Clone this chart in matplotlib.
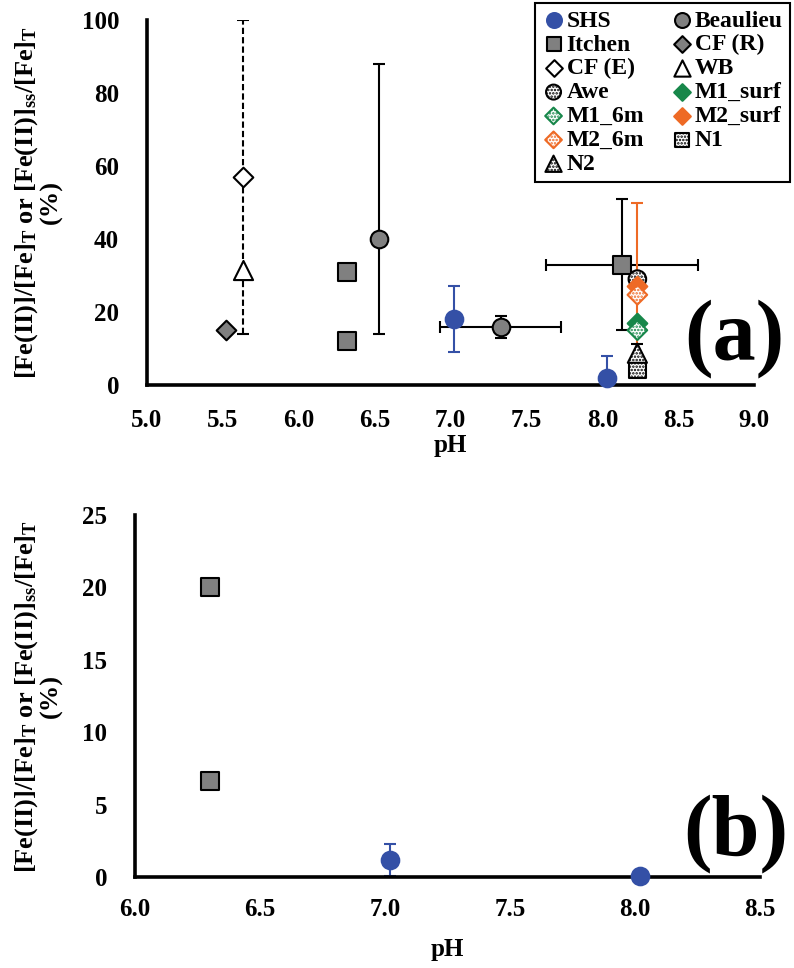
import matplotlib
matplotlib.use("Agg")
import matplotlib.pyplot as plt

plt.rcParams['font.family'] = ['Liberation Serif', 'DejaVu Serif']
plt.rcParams['font.weight'] = 'bold'
plt.rcParams['mathtext.fontset'] = 'custom'
plt.rcParams['mathtext.rm'] = 'Liberation Serif:bold'
plt.rcParams['mathtext.bf'] = 'Liberation Serif:bold'
plt.rcParams['mathtext.it'] = 'Liberation Serif:bold:italic'

# colours
BLUE = '#3450a6'
GREY = '#808080'
GREEN = '#17874a'
ORANGE = '#ee6a25'

# ---- panel (a) data ----
shs_ph = [7.02, 8.03]
shs_val = [18, 2]
shs_err_lo = [9, 0]
shs_err_hi = [9, 6]

beau_ph = [6.53, 7.33]
beau_val = [40, 16]
beau_err = [[26, 3], [48, 3]]
beau_xerr = [0, 0.4]

itchen_ph = [6.32, 6.32, 8.13]
itchen_val = [31, 12, 33]
itchen_err = [0, 0, 18]
itchen_xerr = [0, 0, 0.5]

cfr_ph = [5.52]
cfr_val = [15]

cfe_ph = [5.63]
cfe_val = [57]
cfe_err = [[43], [43]]

wb_ph = [5.63]
wb_val = [31.5]

awe_ph = [8.23]
awe_val = [29]

m1s_ph = [8.23]
m1s_val = [17]
m16_ph = [8.23]
m16_val = [15]

m2s_ph = [8.23]
m2s_val = [27]
m2s_err = [23]
m26_ph = [8.23]
m26_val = [24.7]

n1_ph = [8.23]
n1_val = [4.3]
n2_ph = [8.23]
n2_val = [8.7]
n2_err = [2.5]

# ---- panel (b) data ----
b_itchen_ph = [6.30, 6.30]
b_itchen_val = [20, 6.6]
b_shs_ph = [7.02, 8.02]
b_shs_val = [1.2, 0.1]
b_shs_err = [1.1, 0]

x_ticks_a = [5.0, 5.5, 6.0, 6.5, 7.0, 7.5, 8.0, 8.5, 9.0]
y_ticks_a = [0, 20, 40, 60, 80, 100]
x_ticks_b = [6.0, 6.5, 7.0, 7.5, 8.0, 8.5]
y_ticks_b = [0, 5, 10, 15, 20, 25]

ylab = (r"[Fe(II)]/[Fe]$_{\mathrm{T}}$ or [Fe(II)]$_{\mathrm{ss}}$/[Fe]$_{\mathrm{T}}$" + "\n(%)")

fig = plt.figure(figsize=(7.94, 9.68), dpi=100)
ax1 = fig.add_axes([0.185, 0.6023, 0.765, 0.377])
ax2 = fig.add_axes([0.170, 0.094, 0.787, 0.374])

lw = 1.5
cap = 4


def style_axes(ax, xt, yt, xlim, ylim, xpad, labpad):
    ax.set_xlim(*xlim)
    ax.set_ylim(*ylim)
    ax.set_xticks(xt)
    ax.set_xticklabels(["%.1f" % v for v in xt])
    ax.set_yticks(yt)
    ax.set_yticklabels([str(v) for v in yt])
    for s in ['top', 'right']:
        ax.spines[s].set_visible(False)
    for s in ['left', 'bottom']:
        ax.spines[s].set_linewidth(2.6)
    ax.tick_params(axis='y', length=0, labelsize=18, pad=20)
    ax.tick_params(axis='x', length=0, labelsize=18, pad=xpad)
    for lab in ax.get_xticklabels() + ax.get_yticklabels():
        lab.set_fontweight('bold')
    ax.set_xlabel('pH', fontsize=18, fontweight='bold', labelpad=labpad)


style_axes(ax1, x_ticks_a, y_ticks_a, (5.0, 9.0), (0, 100), 17, 2)
style_axes(ax2, x_ticks_b, y_ticks_b, (6.0, 8.5), (0, 25), 15, 12)

# error bars panel (a)
ax1.errorbar(shs_ph, shs_val, yerr=[shs_err_lo, shs_err_hi], fmt='none',
             ecolor=BLUE, elinewidth=lw, capsize=cap, capthick=lw, zorder=2)
ax1.errorbar(beau_ph, beau_val, yerr=beau_err, xerr=beau_xerr, fmt='none',
             ecolor='black', elinewidth=lw, capsize=cap, capthick=lw, zorder=2)
ax1.errorbar(itchen_ph[2:], itchen_val[2:], yerr=itchen_err[2:], xerr=itchen_xerr[2:],
             fmt='none', ecolor='black', elinewidth=lw, capsize=cap, capthick=lw, zorder=2)
eb = ax1.errorbar(cfe_ph, cfe_val, yerr=cfe_err, fmt='none', ecolor='black',
                  elinewidth=lw, capsize=cap, capthick=lw, zorder=2)
eb[2][0].set_linestyle((0, (3, 1.5)))
ax1.errorbar(m2s_ph, m2s_val, yerr=m2s_err, fmt='none', ecolor=ORANGE,
             elinewidth=lw, capsize=cap, capthick=lw, zorder=2)
ax1.errorbar(n2_ph, n2_val, yerr=n2_err, fmt='none', ecolor='black',
             elinewidth=lw, capsize=cap, capthick=lw, zorder=2)

plt.rcParams['hatch.linewidth'] = 1.2
mk = dict(linewidths=lw, zorder=3, clip_on=False)
h = {}
h['SHS'] = ax1.scatter(shs_ph, shs_val, s=160, marker='o', c=BLUE, edgecolors=BLUE, **mk)
h['Beaulieu'] = ax1.scatter(beau_ph, beau_val, s=160, marker='o', c=GREY, edgecolors='black', **mk)
h['Itchen'] = ax1.scatter(itchen_ph, itchen_val, s=150, marker='s', c=GREY, edgecolors='black', **mk)
h['CF (R)'] = ax1.scatter(cfr_ph, cfr_val, s=100, marker='D', c=GREY, edgecolors='black', **mk)
h['CF (E)'] = ax1.scatter(cfe_ph, cfe_val, s=100, marker='D', c='white', edgecolors='black', **mk)
h['WB'] = ax1.scatter(wb_ph, wb_val, s=190, marker='^', c='white', edgecolors='black', **mk)
h['Awe'] = ax1.scatter(awe_ph, awe_val, s=160, marker='o', c='white', edgecolors='black',
                       hatch='.....', **mk)
h['M1_surf'] = ax1.scatter(m1s_ph, m1s_val, s=100, marker='D', c=GREEN, edgecolors=GREEN, **mk)
h['M1_6m'] = ax1.scatter(m16_ph, m16_val, s=100, marker='D', c='white', edgecolors=GREEN,
                         hatch='.....', **mk)
h['M2_surf'] = ax1.scatter(m2s_ph, m2s_val, s=100, marker='D', c=ORANGE, edgecolors=ORANGE, **mk)
h['M2_6m'] = ax1.scatter(m26_ph, m26_val, s=100, marker='D', c='white', edgecolors=ORANGE,
                         hatch='.....', **mk)
h['N1'] = ax1.scatter(n1_ph, n1_val, s=150, marker='s', c='white', edgecolors='black',
                      hatch='.....', **mk)
h['N2'] = ax1.scatter(n2_ph, n2_val, s=190, marker='^', c='white', edgecolors='black',
                      hatch='.....', **mk)

# legend is filled column by column
order = ['SHS', 'Itchen', 'CF (E)', 'Awe', 'M1_6m', 'M2_6m', 'N2',
         'Beaulieu', 'CF (R)', 'WB', 'M1_surf', 'M2_surf', 'N1']
leg = ax1.legend([h[k] for k in order], order, ncol=2, loc='upper right',
                 bbox_to_anchor=(790 / 794, 1 - 3 / 968), bbox_transform=fig.transFigure,
                 prop={'family': 'Liberation Serif', 'weight': 'bold', 'size': 17},
                 frameon=True, fancybox=False, edgecolor='black', framealpha=1,
                 handletextpad=0.05, columnspacing=1.1, labelspacing=0.1,
                 borderpad=0.3, borderaxespad=0, handlelength=1.0, markerscale=0.85,
                 scatterpoints=1)
leg.get_frame().set_linewidth(1.5)

ax1.text(0.968, 0.125, '(a)', transform=ax1.transAxes, ha='center', va='center',
         fontsize=62, fontweight='bold')

# panel (b)
ax2.errorbar(b_shs_ph, b_shs_val, yerr=b_shs_err, fmt='none', ecolor=BLUE,
             elinewidth=lw, capsize=cap, capthick=lw, zorder=2)
ax2.scatter(b_itchen_ph, b_itchen_val, s=150, marker='s', c=GREY, edgecolors='black', **mk)
ax2.scatter(b_shs_ph, b_shs_val, s=160, marker='o', c=BLUE, edgecolors=BLUE, **mk)
ax2.text(0.962, 0.12, '(b)', transform=ax2.transAxes, ha='center', va='center',
         fontsize=62, fontweight='bold')

fig.text(38 / 794, 1 - 202 / 968, ylab, rotation=90, ha='center', va='center',
         multialignment='center', fontsize=19, fontweight='bold', linespacing=1.0)
fig.text(38 / 794, 1 - 696 / 968, ylab, rotation=90, ha='center', va='center',
         multialignment='center', fontsize=19, fontweight='bold', linespacing=1.0)

fig.savefig('out.png', dpi=100)
